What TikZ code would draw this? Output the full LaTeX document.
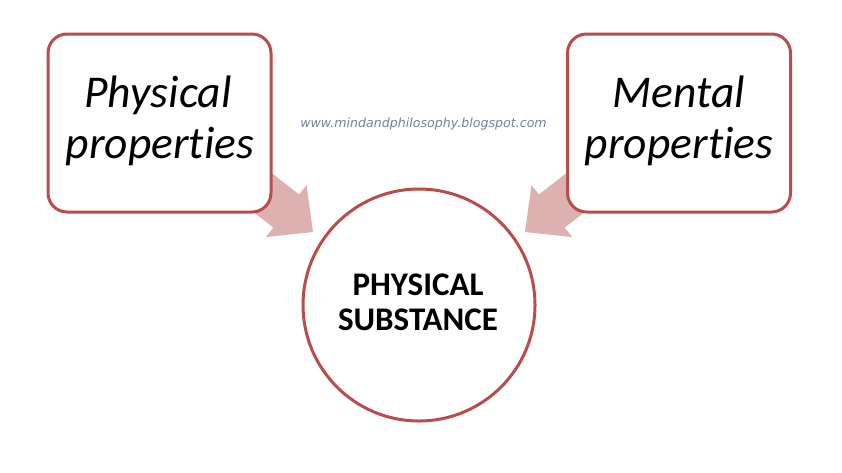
\documentclass[tikz,border=0pt]{standalone}
\usepackage{fontspec}
\setmainfont[Ligatures={NoCommon}]{Carlito}
\newfontfamily\wmfont{DejaVu Sans}
\definecolor{boxline}{RGB}{185,77,74}
\definecolor{arrowfill}{RGB}{222,177,177}
\definecolor{wmcolor}{RGB}{118,128,160}
\tikzset{
  propbox/.style={draw=boxline, line width=3pt, fill=white, rounded corners=19pt,
    minimum width=223pt, minimum height=178pt, inner sep=0pt},
  subst/.style={draw=boxline, line width=3pt, fill=white, circle,
    minimum size=232pt, inner sep=0pt},
  bigtext/.style={anchor=base, inner sep=0pt, font=\fontsize{45.5}{51}\selectfont\itshape},
  ctext/.style={anchor=base, inner sep=0pt, font=\fontsize{33}{35}\selectfont\bfseries},
  wmtext/.style={anchor=base, inner sep=0pt, text=wmcolor, font=\wmfont\fontsize{12.6}{14}\selectfont\itshape},
  blockarrow/.style={fill=arrowfill, draw=none}
}
\begin{document}
\begin{tikzpicture}[x=1pt,y=1pt]
\useasboundingbox (0,0) rectangle (842,-472);
\fill[white] (0,0) rectangle (842,-472);
% block arrows (behind boxes)
\begin{scope}[shift={(313,-232)}, rotate=-38]
  \fill[blockarrow] (0,0) -- (-34,33) -- (-34,21) -- (-80,21) -- (-80,-21) -- (-34,-21) -- (-34,-33) -- cycle;
\end{scope}
\begin{scope}[shift={(525,-232)}, rotate=218]
  \fill[blockarrow] (0,0) -- (-34,33) -- (-34,21) -- (-80,21) -- (-80,-21) -- (-34,-21) -- (-34,-33) -- cycle;
\end{scope}
% boxes
\node[propbox] (L) at (159.5,-123) {};
\node[propbox] (R) at (679,-123) {};
\node[subst] (C) at (419,-305) {};
% texts
\node[bigtext] (L1) at (158,-107) {Physical};
\node[bigtext] (L2) at (160,-158) {properties};
\node[bigtext] (R1) at (679,-107) {Mental};
\node[bigtext] (R2) at (679,-158) {properties};
\node[ctext] (C1) at (418,-295) {PHYSICAL};
\node[ctext] (C2) at (418,-330) {SUBSTANCE};
\node[wmtext] (W) at (423.5,-127) {www.mindandphilosophy.blogspot.com};
\end{tikzpicture}
\end{document}
